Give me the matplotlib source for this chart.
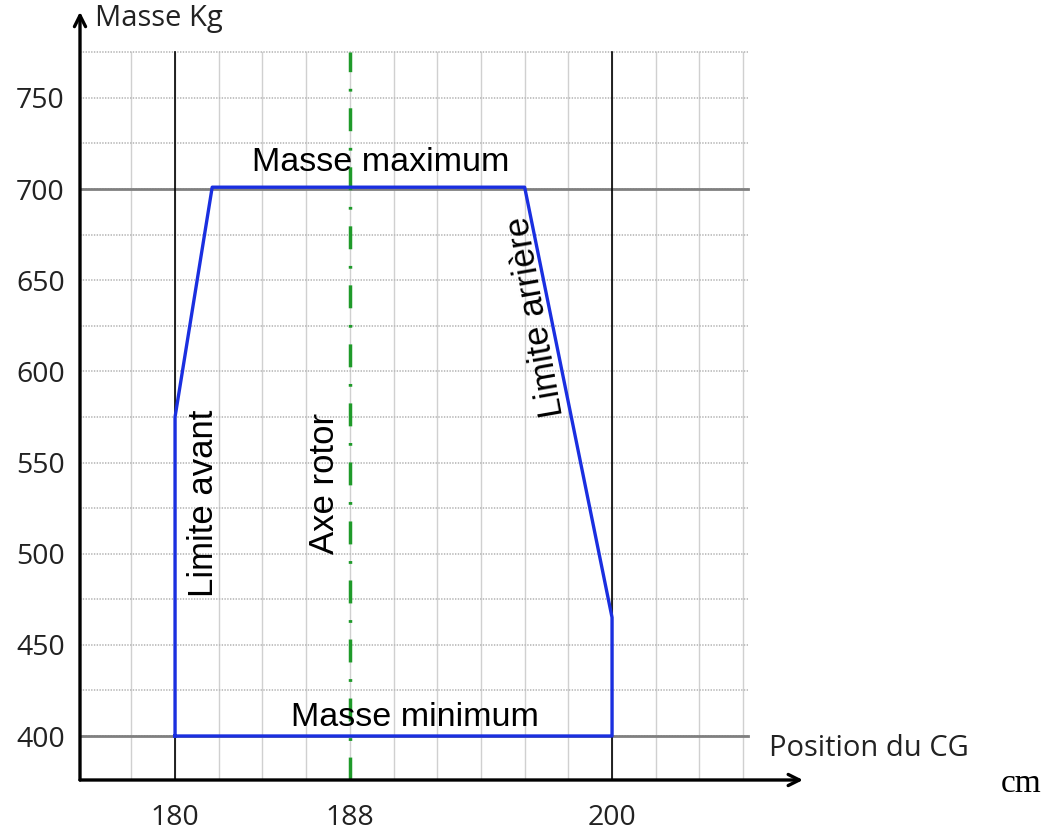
import matplotlib.pyplot as plt

plt.rcParams['lines.scale_dashes'] = False

# enveloppe du centrage (position CG en cm, masse en kg)
env_x = [180, 180, 181.7, 196.0, 200, 200, 180]
env_y = [400, 575, 701, 701, 465, 400, 400]

x_ticks = [180, 188, 200]
y_ticks = [400, 450, 500, 550, 600, 650, 700, 750]
grid_x = list(range(178, 207, 2))
grid_y = list(range(375, 776, 25))

m_max = 700
m_min = 400
lim_av = 180
lim_ar = 200
axe_rotor = 188

x0, x1 = 175.65, 209.5
y0, y1 = 375.87, 798.2

fig = plt.figure(figsize=(10.46, 8.3), dpi=100)
ax = fig.add_axes([80 / 1046, 50 / 830, (x1 - x0) * 21.85 / 1046, (y1 - y0) * 1.8233 / 830])
ax.set_xlim(x0, x1)
ax.set_ylim(y0, y1)
for s in ax.spines.values():
    s.set_visible(False)

# quadrillage
for gx in grid_x:
    ax.plot([gx, gx], [y0, 775], color='#d0d0d0', lw=1, zorder=1)
for gy in grid_y:
    ax.plot([x0, 206.2], [gy, gy], color='#b8b8b8', lw=1.2, ls=(0, (1, 1)), zorder=1)

# masses max / min
ax.plot([x0, 206.2], [m_max, m_max], color='#808080', lw=2, zorder=2)
ax.plot([x0, 206.2], [m_min, m_min], color='#808080', lw=2, zorder=2)

# limites
ax.plot([lim_av, lim_av], [y0, 775], color='black', lw=1.2, zorder=2)
ax.plot([lim_ar, lim_ar], [y0, 775], color='black', lw=1.2, zorder=2)

# axe rotor
ax.plot([axe_rotor, axe_rotor], [y0, 775], color='#1f9a2a', lw=2.5,
        dashes=(16.5, 12, 2, 12), zorder=3)

# enveloppe
ax.plot(env_x, env_y, color='#1a2fe0', lw=2.4, zorder=4)

# axes avec fleches
ax.annotate('', xy=(x0, y1 - 1), xytext=(x0, y0), xycoords='data',
            arrowprops=dict(arrowstyle='->', color='black', lw=2.4,
                            mutation_scale=20, shrinkA=0, shrinkB=0),
            annotation_clip=False)
ax.annotate('', xy=(208.74, y0), xytext=(x0, y0), xycoords='data',
            arrowprops=dict(arrowstyle='->', color='black', lw=2.4,
                            mutation_scale=20, shrinkA=0, shrinkB=0),
            annotation_clip=False)

ax.set_xticks(x_ticks)
ax.set_xticklabels([str(v) for v in x_ticks], fontsize=20.5, family='Open Sans', color='#222222')
ax.set_yticks(y_ticks)
ax.set_yticklabels([str(v) for v in y_ticks], fontsize=20.5, family='Open Sans', color='#222222')
ax.tick_params(axis='x', length=0, pad=17)
ax.tick_params(axis='y', length=0, pad=11)

sans = 'Liberation Sans'
ax.text(189.4, 714.8, 'Masse maximum', fontsize=24.5, family=sans, ha='center', va='center', zorder=5)
ax.text(191.0, 410.4, 'Masse minimum', fontsize=24.5, family=sans, ha='center', va='center', zorder=5)
ax.text(181.3, 527.8, 'Limite avant', fontsize=25, family=sans, rotation=90, ha='center', va='center', zorder=5)
ax.text(186.86, 538.7, 'Axe rotor', fontsize=25, family=sans, rotation=90, ha='center', va='center', zorder=5)
ax.text(196.5, 629.8, 'Limite arrière', fontsize=25, family=sans, rotation=100,
        rotation_mode='anchor', ha='center', va='center', zorder=5)

ax.text(176.34, 793.6, 'Masse Kg', fontsize=21, family='Open Sans', ha='left', va='center', color='#222222')
ax.text(207.2, 393.3, 'Position du CG', fontsize=21, family='Open Sans', ha='left', va='center', color='#222222')
ax.text(217.8, 373.7, 'cm', fontsize=24, family='Liberation Serif', ha='left', va='center', clip_on=False)

fig.savefig('out.png', dpi=100)
